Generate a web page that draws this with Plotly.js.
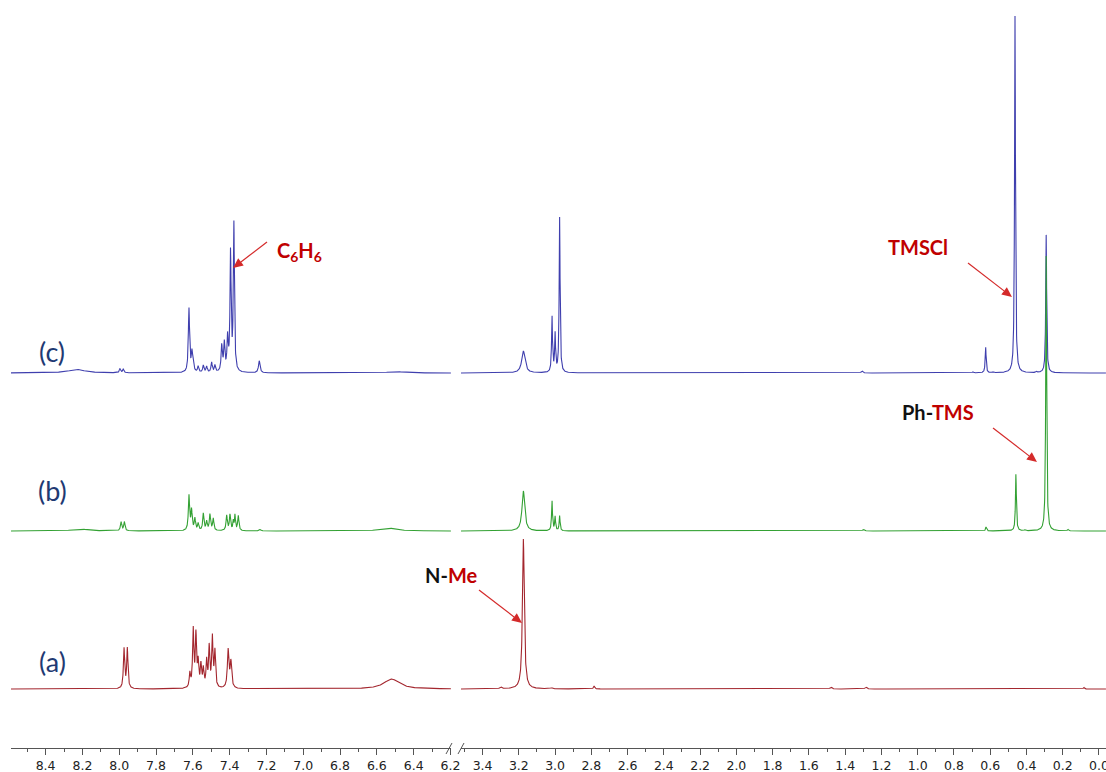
<!DOCTYPE html>
<html><head><meta charset="utf-8">
<script src="https://cdn.plot.ly/plotly-3.0.1.min.js"></script>
<style>html,body{margin:0;padding:0;background:#fff}#chart{width:1106px;height:772px}</style>
</head><body><div id="chart"></div>
<script>
// ---- Peak lists: shift (ppm), height (intensity), half-width (ppm) ----
// (a) red spectrum
const aShift  = [7.974, 7.956, 7.616, 7.598, 7.583, 7.571, 7.556, 7.543, 7.525, 7.511, 7.494, 7.480, 7.408, 7.393, 6.520,
                 3.300, 3.175, 3.020, 2.785, 1.478, 1.285, 0.083];
const aHeight = [40, 40, 14, 58, 52, 24, 22, 18, 26, 40, 50, 36, 38, 26, 10,
                 2, 150, 1, 3, 2, 2, 1.5];
const aWidth  = [0.004, 0.004, 0.004, 0.004, 0.004, 0.004, 0.004, 0.004, 0.004, 0.004, 0.004, 0.004, 0.005, 0.005, 0.05,
                 0.006, 0.006, 0.006, 0.004, 0.006, 0.006, 0.004];
// (b) green spectrum
const bShift  = [8.213, 7.990, 7.972, 7.621, 7.607, 7.589, 7.571, 7.543, 7.525, 7.507, 7.489, 7.416, 7.398, 7.380, 7.371, 7.353, 7.235, 6.540,
                 3.175, 3.017, 3.000, 2.975, 1.300, 0.623, 0.458, 0.408, 0.291, 0.171];
const bHeight = [2, 9, 9, 35, 20, 12, 7, 17, 9, 16, 12, 15, 16, 9, 15, 15, 1.5, 3,
                 40, 30, 14, 15, 1.5, 4, 57, 1, 275, 1.5];
const bWidth  = [0.05, 0.004, 0.004, 0.004, 0.004, 0.004, 0.004, 0.004, 0.004, 0.004, 0.004, 0.004, 0.004, 0.003, 0.003, 0.004, 0.005, 0.05,
                 0.009, 0.003, 0.003, 0.003, 0.006, 0.003, 0.003, 0.004, 0.003, 0.004];
// (c) blue spectrum
const cShift  = [8.231, 7.996, 7.978, 7.621, 7.605, 7.598, 7.571, 7.543, 7.525, 7.498, 7.480, 7.443, 7.429, 7.411, 7.395, 7.377, 7.239, 6.500,
                 3.175, 3.017, 3.000, 2.975, 1.307, 0.695, 0.625, 0.585, 0.463, 0.344, 0.291];
const cHeight = [3.5, 4, 4, 64, 18, 10, 6, 7, 6, 10, 7, 26, 28, 33, 118, 148, 12, 1.5,
                 22, 56, 38, 155, 2, 1, 26, 1, 357, 1, 138];
const cWidth  = [0.055, 0.004, 0.004, 0.004, 0.004, 0.004, 0.004, 0.004, 0.004, 0.004, 0.004, 0.004, 0.004, 0.004, 0.0035, 0.0035, 0.005, 0.05,
                 0.011, 0.003, 0.003, 0.003, 0.006, 0.004, 0.003, 0.004, 0.003, 0.004, 0.003];

const spectrumNames = ['(a)', '(b)', '(c)'];
const leftRange  = [8.588, 6.197];
const rightRange = [3.519, -0.039];
const tickStep = 0.2;

// ---- build line shapes (Lorentzian sum of the listed peaks) ----
function lineShape(shifts, heights, widths, from, to, offset) {
  const xs = [], ys = [];
  const step = 0.0008;
  for (let x = from; x >= to - 1e-9; x -= step) {
    let s = 0;
    for (let i = 0; i < shifts.length; i++) {
      const d = x - shifts[i], w = widths[i];
      s += heights[i] * w * w / (d * d + w * w);
    }
    xs.push(+x.toFixed(4)); ys.push(s + offset);
  }
  return {x: xs, y: ys};
}

const offsets = {a: 59, b: 217, c: 375};
const colors  = {a: '#a3262e', b: '#33a133', c: '#3f3fae'};
const sets = {
  a: [aShift, aHeight, aWidth],
  b: [bShift, bHeight, bWidth],
  c: [cShift, cHeight, cWidth]
};

const traces = [];
['c', 'b', 'a'].forEach(k => {
  const [s, h, w] = sets[k];
  const L = lineShape(s, h, w, leftRange[0], leftRange[1], offsets[k]);
  const R = lineShape(s, h, w, rightRange[0], rightRange[1], offsets[k]);
  traces.push({x: L.x, y: L.y, xaxis: 'x', yaxis: 'y', type: 'scatter', mode: 'lines',
               line: {color: colors[k], width: 1.1}, hoverinfo: 'skip', showlegend: false});
  traces.push({x: R.x, y: R.y, xaxis: 'x2', yaxis: 'y', type: 'scatter', mode: 'lines',
               line: {color: colors[k], width: 1.1}, hoverinfo: 'skip', showlegend: false});
});

// ---- layout helpers (pixel -> paper / y) ----
const W = 1106, PH = 748;
const px = v => v / W;
const py = v => PH - v;
const pyp = v => (PH - v) / PH;

const axisCommon = {
  showgrid: false, zeroline: false, showline: true, linecolor: '#555', linewidth: 1,
  ticks: 'outside', ticklen: 6, tickcolor: '#555', tickwidth: 1,
  dtick: tickStep, tick0: 0, tickformat: '.1f', ticklabeloverflow: 'allow',
  tickfont: {family: 'DejaVu Sans, Verdana, sans-serif', size: 12.5, color: '#222'},
  minor: {dtick: 0.1, tick0: 0, ticks: 'outside', ticklen: 3, tickcolor: '#555', showgrid: false},
  anchor: 'y', fixedrange: true
};

const labelFont = {family: 'Lato, Carlito, Calibri, sans-serif', size: 27, color: '#1f3a73'};
const redFont = {family: 'Lato, Carlito, Calibri, sans-serif', size: 20, color: '#c00000'};

const annotations = [
  {text: spectrumNames[2], x: px(52), y: py(351)},
  {text: spectrumNames[1], x: px(52), y: py(490)},
  {text: spectrumNames[0], x: px(52), y: py(661)}
].map(o => Object.assign(o, {xref: 'paper', yref: 'y', showarrow: false, font: labelFont, xanchor: 'center', yanchor: 'middle'}));

const textNotes = [
  {text: '<b>C<sub>6</sub>H<sub>6</sub></b>', x: px(299), y: py(251)},
  {text: '<b>TMSCl</b>', x: px(918), y: py(247)},
  {text: '<b><span style="color:#111">Ph-</span>TMS</b>', x: px(938), y: py(412)},
  {text: '<b><span style="color:#111">N-</span>Me</b>', x: px(451), y: py(575)}
];
textNotes.forEach(o => annotations.push(Object.assign(o, {xref: 'paper', yref: 'y', showarrow: false, font: redFont, xanchor: 'center', yanchor: 'middle'})));

// break marks on the axis
const shapes = [
  {type: 'line', xref: 'paper', yref: 'paper', x0: px(446), x1: px(452), y0: -6 / PH, y1: 5 / PH, line: {color: '#555', width: 1}},
  {type: 'line', xref: 'paper', yref: 'paper', x0: px(458), x1: px(464), y0: -6 / PH, y1: 5 / PH, line: {color: '#555', width: 1}}
];

// pointer arrows (tail -> tip, in pixels) drawn as a line plus a filled head
const arrowColor = '#d42a2a';
const arrows = [
  [[267, 242], [233, 268]],
  [[968, 263], [1012, 297]],
  [[993, 428], [1037, 462]],
  [[479, 590], [522, 623]]
];
arrows.forEach(([tail, tip]) => {
  const dx = tip[0] - tail[0], dy = tip[1] - tail[1];
  const len = Math.hypot(dx, dy), ux = dx / len, uy = dy / len;
  const headL = 10, headW = 4.5;
  const bx = tip[0] - ux * headL, by = tip[1] - uy * headL;
  const p1 = [bx - uy * headW, by + ux * headW], p2 = [bx + uy * headW, by - ux * headW];
  shapes.push({type: 'line', xref: 'paper', yref: 'paper',
    x0: px(tail[0]), y0: pyp(tail[1]), x1: px(bx), y1: pyp(by), line: {color: arrowColor, width: 1.2}});
  shapes.push({type: 'path', xref: 'paper', yref: 'paper', fillcolor: arrowColor, line: {width: 0},
    path: `M ${px(tip[0])} ${pyp(tip[1])} L ${px(p1[0])} ${pyp(p1[1])} L ${px(p2[0])} ${pyp(p2[1])} Z`});
});

const layout = {
  width: 1106, height: 772,
  margin: {l: 0, r: 0, t: 0, b: 24, pad: 0},
  paper_bgcolor: '#fff', plot_bgcolor: '#fff',
  showlegend: false,
  xaxis: Object.assign({}, axisCommon, {domain: [px(11), px(451)], range: leftRange}),
  xaxis2: Object.assign({}, axisCommon, {domain: [px(461), 1], range: rightRange}),
  yaxis: {range: [0, PH], visible: false, fixedrange: true},
  annotations: annotations,
  shapes: shapes
};

Plotly.newPlot('chart', traces, layout, {displayModeBar: false, staticPlot: true});
</script>
</body></html>
